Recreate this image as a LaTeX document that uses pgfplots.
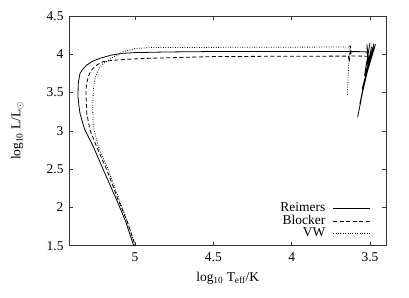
\documentclass[border=0pt]{standalone}
\usepackage{fontspec}
\setmainfont{Liberation Serif}
\usepackage{pgfplots}
\pgfplotsset{compat=1.18}
\begin{document}
\begin{tikzpicture}
\begin{axis}[
  name=main,
  scale only axis, width=316.5bp, height=229.7bp,
  x dir=reverse, xmin=3.398, xmax=5.418, ymin=1.5, ymax=4.5,
  xtick={3.5,4,4.5,5}, ytick={1.5,2,2.5,3,3.5,4,4.5},
  tick align=inside, major tick length=4bp,
  axis line style={black!80, line width=0.6pt},
  every tick/.style={black!80, line width=0.5pt},
  /pgf/number format/assume math mode=true,
  tick label style={font=\fontsize{13.5}{14}\selectfont},
  yticklabel style={xshift=-2.5bp},
  xticklabel style={yshift=-3.5bp},
  label style={font=\fontsize{13.5}{14}\selectfont},
  xlabel={log\textsubscript{10} T\textsubscript{eff}/K},
  ylabel={log\textsubscript{10} L/L\textsubscript{$\odot$}},
  xlabel style={at={(axis description cs:0.5,-0.141)}, anchor=center},
  ylabel style={at={(axis description cs:-0.165,0.5)}, anchor=center},
  legend cell align=right,
  legend plot pos=right,
  legend image code/.code={\draw[#1] (0bp,0bp) -- (37bp,0bp);},
  legend style={draw=none, fill=none, at={(0.955,0.02)}, anchor=south east,
    font=\fontsize{13.5}{13.5}\selectfont, row sep=0pt, column sep=7bp, inner sep=1pt,
    nodes={inner sep=0.5bp, text height=9bp, text depth=2.5bp}},
]
% Reimers
\addplot[black, line width=0.8pt] coordinates {
(3.579,3.178) (3.49,4.10) (3.565,3.35) (3.475,4.14) (3.55,3.55) (3.465,4.13)
(3.535,3.72) (3.50,4.15) (3.525,3.85) (3.47,4.10) (3.515,3.93) (3.52,4.13)
(3.511,3.97) (3.515,4.02) (3.532,4.034) (3.7,4.036) (4.0,4.037) (4.5,4.036)
(4.8,4.03) (5.0,4.022) (5.075,4.013) (5.15,3.99) (5.223,3.948) (5.27,3.91)
(5.308,3.86) (5.335,3.80) (5.351,3.75) (5.362,3.62) (5.364,3.447)
(5.358,3.33) (5.351,3.23) (5.335,3.11) (5.319,3.01) (5.266,2.794)
(5.202,2.49) (5.117,2.098) (5.06,1.82) (5.01,1.51) (4.99,1.4)
};
\addlegendentry{Reimers}
% Blocker
\addplot[black, line width=0.8pt, dash pattern=on 4bp off 2.5bp] coordinates {
(3.51,3.975) (3.60,3.977) (3.62,3.977) (3.624,4.11) (3.632,3.90) (3.638,3.976)
(4.0,3.975) (4.5,3.97) (4.904,3.948) (5.05,3.935) (5.15,3.92) (5.202,3.904)
(5.24,3.865) (5.266,3.82) (5.285,3.77) (5.298,3.71) (5.31,3.60) (5.313,3.49)
(5.31,3.33) (5.308,3.23) (5.287,3.01) (5.245,2.794) (5.18,2.49) (5.107,2.098)
(5.05,1.82) (5.0,1.51) (4.98,1.4)
};
\addlegendentry{Blocker}
% VW
\addplot[black, line width=0.8pt, dash pattern=on 0.8bp off 1.6bp] coordinates {
(3.644,3.47) (3.638,3.8) (3.628,4.12) (3.63,4.095) (4.0,4.093) (4.9,4.088)
(5.0,4.075) (5.075,4.034) (5.14,3.96) (5.202,3.88) (5.228,3.82) (5.245,3.75)
(5.258,3.65) (5.266,3.534) (5.27,3.316) (5.266,3.055) (5.234,2.794)
(5.17,2.49) (5.1,2.098) (5.05,1.82) (5.0,1.51) (4.98,1.4)
};
\addlegendentry{VW}
\end{axis}
\pgfresetboundingbox
\path ([shift={(-69.5bp,-52.3bp)}]main.south west) rectangle ([shift={(23bp,16bp)}]main.north east);
\end{tikzpicture}
\end{document}
